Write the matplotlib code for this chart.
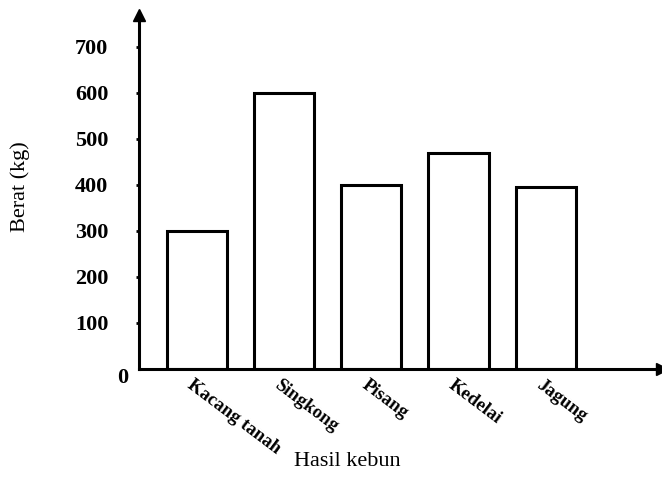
import matplotlib.pyplot as plt

plt.rcParams['font.family'] = 'Liberation Serif'

# data
crops = ['Kacang tanah', 'Singkong', 'Pisang', 'Kedelai', 'Jagung']
weights = [300, 600, 400, 470, 395]
yticks = [100, 200, 300, 400, 500, 600, 700]

fig = plt.figure(figsize=(6.62, 4.88), dpi=100)
ax = fig.add_axes([0.21, 0.244, 0.79, 0.726])

x = range(len(crops))
ax.bar(x, weights, width=0.69, color='white', edgecolor='black', linewidth=2.2, zorder=2)

ax.set_xlim(-0.66, 5.33)
ax.set_ylim(0, 770)

# axes with arrow heads
for s in ['top', 'right']:
    ax.spines[s].set_visible(False)
for s in ['left', 'bottom']:
    ax.spines[s].set_linewidth(2.2)
ax.plot(1, 0, '>k', markersize=9, transform=ax.transAxes, clip_on=False)
ax.plot(0, 1, '^k', markersize=9, transform=ax.transAxes, clip_on=False)

ax.set_yticks(yticks)
ax.set_yticklabels([str(v) for v in yticks], fontsize=16, fontweight='bold')
ax.tick_params(axis='y', length=2, width=2, pad=20)
ax.set_xticks([])

# zero at the corner
ax.annotate('0', xy=(0, 0), xycoords='axes fraction', xytext=(-11.5, -6.5),
            textcoords='offset points', ha='center', va='center',
            fontsize=16, fontweight='bold')

# rotated category labels
for i, name in enumerate(crops):
    ax.text(i - 0.03, -16, name, rotation=-37, rotation_mode='anchor',
            ha='left', va='top', fontsize=13.5, fontweight='bold')

fig.text(20 / 662, 1 - 187 / 488, 'Berat (kg)', rotation=90,
         ha='center', va='center', fontsize=16)
fig.text(347 / 662, 1 - 462 / 488, 'Hasil kebun', ha='center', va='center', fontsize=16)

fig.savefig('out.png', dpi=100)
